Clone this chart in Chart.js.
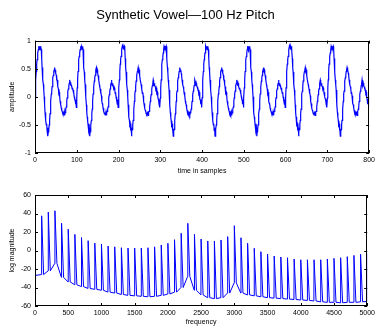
<!DOCTYPE html>
<html>
<head>
<meta charset="utf-8">
<script src="https://cdn.jsdelivr.net/npm/chart.js@4/dist/chart.umd.min.js"></script>
<style>
  body { margin: 0; background: #fff; }
  canvas { position: absolute; left: 0; }
  #wave { top: 0; }
  #spec { top: 178px; }
</style>
</head>
<body>
<canvas id="wave" width="378" height="178"></canvas>
<canvas id="spec" width="378" height="149"></canvas>
<script>
// one pitch period (100 samples) of the vowel
const periodAmp = [
  -0.02, 0.16, 0.30, 0.45, 0.58, 0.66, 0.72, 0.78, 0.84, 0.90,
  0.86, 0.90, 0.84, 0.88, 0.90, 0.84, 0.68, 0.52, 0.44, 0.30,
  0.22, 0.12, 0.00, -0.14, -0.28, -0.36, -0.42, -0.50, -0.48, -0.60,
  -0.55, -0.70, -0.62, -0.58, -0.50, -0.42, -0.30, -0.22, -0.08, 0.05,
  0.10, 0.18, 0.28, 0.34, 0.38, 0.45, 0.48, 0.52, 0.46, 0.48,
  0.42, 0.38, 0.30, 0.30, 0.22, 0.18, 0.14, 0.06, 0.08, 0.02,
  -0.08, -0.12, -0.14, -0.20, -0.24, -0.26, -0.30, -0.28, -0.32, -0.30,
  -0.26, -0.33, -0.28, -0.26, -0.22, -0.18, -0.08, -0.02, 0.04, 0.10,
  0.14, 0.20, 0.24, 0.30, 0.26, 0.20, 0.24, 0.20, 0.18, 0.14,
  0.16, 0.12, 0.06, 0.08, 0.00, -0.04, -0.06, -0.13, -0.05, -0.19
];
const numSamples = 800;

// spectrum: harmonic frequencies, their peak levels, and the valley level at each harmonic's foot
const harmonicHz = [
  100, 200, 300, 400, 500, 600, 700, 800, 900, 1000,
  1100, 1200, 1300, 1400, 1500, 1600, 1700, 1800, 1900, 2000,
  2100, 2200, 2300, 2400, 2500, 2600, 2700, 2800, 2900, 3000,
  3100, 3200, 3300, 3400, 3500, 3600, 3700, 3800, 3900, 4000,
  4100, 4200, 4300, 4400, 4500, 4600, 4700, 4800, 4900, 5000
];
const peakDb = [
  37.5, 41.5, 43, 29.5, 23, 17.5, 14, 10.6, 8, 7,
  4.8, 4, 3, 2.7, 2.7, 2.7, 3, 4, 6, 7.8,
  11.7, 18.6, 29.4, 17.5, 12.4, 10.3, 10.3, 11.4, 15, 26.8,
  13.8, 7.8, 2.4, -1.3, -3.8, -6, -7, -7.8, -9.2, -10,
  -10, -10, -10, -9.2, -8.5, -7.8, -6.7, -5.3, -4.1, -3.1
];
// valley level at 0 Hz, then at the foot of each harmonic above
const floorDb = [
  -27,
  -26, -22, -14, -29, -34, -37, -39, -41, -42, -43,
  -45, -46, -47.5, -48.5, -49, -49.5, -50, -49.5, -48.5, -47,
  -45, -40, -28, -43, -48, -51, -52, -51, -46, -35,
  -46, -48, -49, -50, -51, -51.5, -52, -52.5, -53, -53.5,
  -54, -54.5, -55.5, -56, -56, -56.5, -56, -56, -55.5, -55
];

const fontFam = "'Liberation Sans', Arial, Helvetica, sans-serif";
const tickFont = { family: fontFam, size: 7 };

const wavePts = [];
for (let n = 0; n <= numSamples; n++) {
  wavePts.push({ x: n, y: periodAmp[n % periodAmp.length] });
}

const specPts = [{ x: 0, y: floorDb[0] }];
harmonicHz.forEach((f, i) => {
  specPts.push({ x: f - 3, y: floorDb[i + 1] });
  specPts.push({ x: f, y: peakDb[i] });
  specPts.push({ x: f + 30, y: floorDb[i + 1] });
});

// matlab-like box with inward ticks on all four sides
const boxTicks = {
  id: 'boxTicks',
  afterDatasetsDraw(chart) {
    const { ctx, chartArea: a, scales: { x, y } } = chart;
    const len = 3;
    ctx.save();
    ctx.strokeStyle = '#000';
    ctx.lineWidth = 1;
    ctx.beginPath();
    x.ticks.forEach(t => {
      const px = Math.round(x.getPixelForValue(t.value)) + 0.5;
      ctx.moveTo(px, a.bottom); ctx.lineTo(px, a.bottom - len);
      ctx.moveTo(px, a.top); ctx.lineTo(px, a.top + len);
    });
    y.ticks.forEach(t => {
      const py = Math.round(y.getPixelForValue(t.value)) + 0.5;
      ctx.moveTo(a.left, py); ctx.lineTo(a.left + len, py);
      ctx.moveTo(a.right, py); ctx.lineTo(a.right - len, py);
    });
    ctx.stroke();
    ctx.strokeRect(Math.round(a.left) + 0.5, Math.round(a.top) + 0.5,
                   Math.round(a.width) - 1, Math.round(a.height) - 1);
    ctx.restore();
  }
};

function axis(min, max, step, label, isX, fitSize, titlePad) {
  return {
    type: 'linear',
    min: min, max: max,
    grid: { display: false, drawTicks: false },
    border: { display: false },
    ticks: {
      stepSize: step, autoSkip: false, maxRotation: 0,
      padding: isX ? 3 : 4,
      color: '#000', font: tickFont,
      callback: v => String(v)
    },
    title: { display: true, text: label, color: '#000', font: tickFont, padding: titlePad },
    afterFit: s => { if (isX) s.height = fitSize; else s.width = fitSize; }
  };
}

new Chart(document.getElementById('wave').getContext('2d'), {
  type: 'line',
  data: {
    datasets: [{
      data: wavePts,
      borderColor: 'rgb(0, 0, 255)',
      borderWidth: 1.2,
      pointRadius: 0,
      tension: 0
    }]
  },
  options: {
    responsive: false,
    animation: false,
    devicePixelRatio: 1,
    layout: { padding: { top: 0, right: 7, left: 0, bottom: 0 } },
    plugins: {
      legend: { display: false },
      tooltip: { enabled: false },
      title: {
        display: true,
        text: 'Synthetic Vowel\u2014100 Hz Pitch',
        color: '#000',
        font: { family: fontFam, size: 13, weight: 'normal' },
        padding: { top: 8, bottom: 17 }
      }
    },
    scales: {
      x: axis(0, 800, 100, 'time in samples', true, 25, { top: 0, bottom: 3 }),
      y: axis(-1, 1, 0.5, 'amplitude', false, 35, { top: 7.5, bottom: 0 })
    }
  },
  plugins: [boxTicks]
});

new Chart(document.getElementById('spec').getContext('2d'), {
  type: 'line',
  data: {
    datasets: [{
      data: specPts,
      borderColor: 'rgb(0, 0, 255)',
      borderWidth: 1,
      pointRadius: 0,
      tension: 0
    }]
  },
  options: {
    responsive: false,
    animation: false,
    devicePixelRatio: 1,
    layout: { padding: { top: 17, right: 7, left: 0, bottom: 0 } },
    plugins: { legend: { display: false }, tooltip: { enabled: false } },
    scales: {
      x: axis(0, 5000, 500, 'frequency', true, 21, { top: 0, bottom: 1 }),
      y: axis(-60, 60, 20, 'log magnitude', false, 35, { top: 7.5, bottom: 0 })
    }
  },
  plugins: [boxTicks]
});
</script>
</body>
</html>
